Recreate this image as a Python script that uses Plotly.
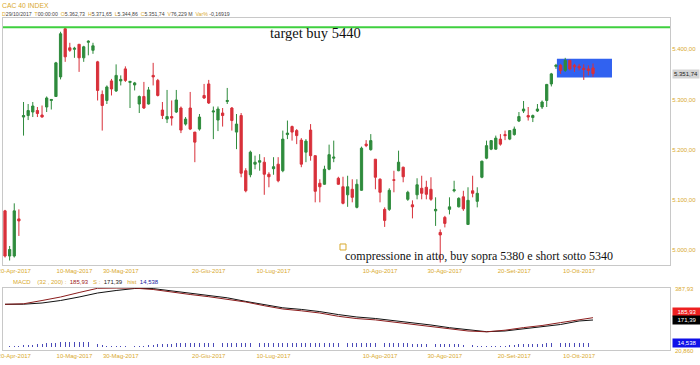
import plotly.graph_objects as go

# ---------------- data ----------------
idx = list(range(128))
opens = [5078, 4988, 4988, 5062, 5265, 5268, 5275, 5278, 5269, 5285,
         5298, 5306, 5345, 5441, 5403, 5400, 5410, 5383, 5414, 5398,
         5375, 5310, 5298, 5337, 5317, 5337, 5361, 5334, 5329, 5291,
         5306, 5291, 5348, 5338, 5279, 5261, 5266, 5275, 5283, 5251,
         5283, 5235, 5241, 5308, 5331, 5275, 5259, 5273, 5296, 5283,
         5235, 5268, 5158, 5150, 5171, 5175, 5175, 5151, 5162, 5171,
         5158, 5230, 5246, 5238, 5219, 5195, 5239, 5188, 5133, 5131,
         5161, 5183, 5143, 5126, 5110, 5121, 5085, 5119, 5211, 5200,
         5181, 5141, 5081, 5081, 5140, 5158, 5165, 5101, 5090, 5110,
         5123, 5125, 5121, 5078, 5035, 5065, 5081, 5118, 5086, 5106,
         5051, 5118, 5097, 5145, 5183, 5201, 5201, 5221, 5230, 5221,
         5230, 5257, 5277, 5268, 5264, 5277, 5285, 5298, 5331, 5366,
         5368, 5358, 5378, 5368, 5366, 5362, 5361, 5362.73]
highs = [5080, 5008, 5093, 5081, 5295, 5291, 5295, 5285, 5288, 5306,
         5301, 5375, 5435, 5443, 5413, 5405, 5410, 5407, 5418, 5413,
         5377, 5318, 5328, 5341, 5370, 5348, 5366, 5336, 5335, 5308,
         5335, 5325, 5373, 5341, 5295, 5319, 5298, 5319, 5286, 5265,
         5315, 5235, 5271, 5331, 5339, 5286, 5286, 5283, 5323, 5285,
         5271, 5273, 5163, 5198, 5188, 5191, 5185, 5155, 5185, 5185,
         5238, 5258, 5248, 5241, 5223, 5221, 5251, 5188, 5141, 5168,
         5210, 5218, 5146, 5146, 5148, 5141, 5141, 5206, 5219, 5231,
         5181, 5143, 5085, 5123, 5158, 5198, 5166, 5118, 5099, 5143,
         5148, 5138, 5145, 5105, 5041, 5068, 5105, 5138, 5105, 5118,
         5125, 5148, 5125, 5178, 5218, 5219, 5228, 5231, 5238, 5239,
         5246, 5275, 5297, 5285, 5270, 5291, 5298, 5331, 5353, 5371,
         5371, 5383, 5379, 5371, 5371, 5370, 5368, 5371.65]
lows = [4985, 4979, 4985, 5028, 5228, 5259, 5265, 5265, 5264, 5275,
        5280, 5305, 5340, 5375, 5395, 5383, 5355, 5375, 5388, 5391,
        5298, 5238, 5291, 5308, 5315, 5328, 5335, 5283, 5318, 5273,
        5281, 5290, 5328, 5306, 5261, 5253, 5248, 5273, 5233, 5248,
        5239, 5175, 5238, 5301, 5291, 5221, 5237, 5246, 5291, 5238,
        5201, 5145, 5115, 5145, 5161, 5158, 5110, 5125, 5150, 5135,
        5155, 5221, 5218, 5211, 5165, 5175, 5178, 5095, 5095, 5130,
        5159, 5175, 5130, 5091, 5086, 5095, 5083, 5118, 5205, 5198,
        5121, 5095, 5046, 5078, 5115, 5157, 5135, 5098, 5063, 5101,
        5101, 5101, 5098, 5048, 4975, 5045, 5071, 5115, 5085, 5078,
        5050, 5105, 5085, 5143, 5181, 5199, 5200, 5208, 5219, 5219,
        5228, 5255, 5273, 5258, 5255, 5275, 5281, 5285, 5326, 5361,
        5351, 5355, 5358, 5355, 5358, 5339, 5348, 5344.86]
closes = [4988, 5001, 5078, 5058, 5268, 5278, 5287, 5272, 5265, 5303,
          5300, 5373, 5431, 5385, 5398, 5402, 5383, 5405, 5416, 5407,
          5318, 5288, 5325, 5321, 5348, 5340, 5338, 5336, 5333, 5306,
          5283, 5319, 5345, 5308, 5268, 5266, 5263, 5299, 5239, 5261,
          5241, 5215, 5265, 5303, 5293, 5277, 5281, 5268, 5298, 5258,
          5251, 5153, 5118, 5195, 5175, 5178, 5151, 5146, 5166, 5138,
          5221, 5233, 5235, 5228, 5171, 5217, 5188, 5117, 5126, 5161,
          5190, 5185, 5131, 5093, 5126, 5105, 5131, 5203, 5208, 5218,
          5145, 5115, 5059, 5119, 5139, 5175, 5146, 5115, 5086, 5130,
          5113, 5111, 5101, 5081, 5030, 5053, 5086, 5120, 5103, 5082,
          5099, 5113, 5113, 5177, 5208, 5218, 5223, 5211, 5228, 5238,
          5241, 5266, 5281, 5265, 5268, 5281, 5295, 5330, 5351, 5368,
          5358, 5378, 5361, 5365, 5363, 5360, 5358, 5351.74]

# MACD (red) and signal (black) lines, read every 4th session
macd_idx = [0, 4, 8, 12, 16, 20, 24, 28, 32, 36, 40, 44, 48, 52, 56, 60, 64,
            68, 72, 76, 80, 84, 88, 92, 96, 100, 104, 108, 112, 116, 120, 124, 127]
macd_line = [291.4, 294.4, 313.9, 334.6, 361.3, 386.2, 387.5, 387.3, 379.1, 363.1,
             349.4, 336.4, 322.8, 305.0, 283.1, 263.6, 252.9, 239.9, 220.4, 206.8,
             199.1, 186.6, 172.4, 160.0, 145.2, 133.4, 128.6, 138.1, 153.5, 165.9,
             183.1, 200.2, 212.1]
signal_line = [291.4, 292.0, 299.1, 313.9, 334.6, 358.3, 373.1, 385.0, 384.4, 370.2,
               357.2, 344.7, 329.9, 308.6, 289.7, 270.7, 261.2, 248.2, 230.5, 216.2,
               207.4, 195.5, 180.7, 168.9, 152.9, 139.3, 129.2, 133.4, 146.4, 159.4,
               171.9, 192.6, 198.5]
hist = [3, 3, 3, 3, 6, 7, 8, 10, 11, 12, 13, 15, 16, 17, 18, 18, 18, 17, 16,
        13, 10, 7, 4, 3, 3, 3, 3, 3, 3, 3,
        5, 7, 8, 9, 10, 11, 11, 12, 12, 12, 12, 12, 12, 12, 12, 12, 12, 12, 12, 12,
        12, 12, 12, 12, 12, 12, 12, 12, 12, 12, 12, 12, 12, 12, 12, 12, 12, 12, 12, 12,
        12, 12, 12, 12, 12, 12,
        12, 12, 12, 12, 12, 12, 12, 12, 12, 12, 12, 12, 11, 11, 11, 11, 11, 10, 10, 10,
        10, 9, 9, 8, 7, 6, 5,
        3, 3, 3, 3, 3,
        5, 7, 8, 9, 10, 10, 11, 11, 11, 12, 12, 12, 12, 12, 12, 13, 13, 13, 14, 14.538]

tick_idx = [2, 15, 25, 44, 58, 81, 95, 110, 124]
tick_labels = ["20-Apr-2017", "10-Mag-2017", "30-Mag-2017", "20-Giu-2017", "10-Lug-2017",
               "10-Ago-2017", "30-Ago-2017", "20-Set-2017", "10-Ott-2017"]
price_ticks = [5000, 5100, 5200, 5300, 5400]

target_level = 5444
box_low, box_high = 5344, 5381
box_start, box_end = 119.2, 131.1

# ---------------- style ----------------
W, H = 700, 365
GOLD = "#d9a92e"
GREEN = "#2e8b3c"
RED = "#d8303a"
FRAME = "#c8c8c8"
SANS = "Liberation Sans"
SERIF = "Liberation Serif"


def px(x):
    return x / W


def py(y):
    return 1 - y / H


fig = go.Figure()
fig.add_trace(go.Candlestick(
    x=idx, open=opens, high=highs, low=lows, close=closes,
    xaxis="x", yaxis="y", whiskerwidth=0, showlegend=False, hoverinfo="skip",
    increasing=dict(line=dict(color=GREEN, width=1), fillcolor=GREEN),
    decreasing=dict(line=dict(color=RED, width=1), fillcolor=RED)))
fig.add_trace(go.Bar(x=idx, y=hist, xaxis="x2", yaxis="y3", width=0.2, hoverinfo="skip",
                     marker=dict(color="#4a4ab8", line=dict(width=0)), showlegend=False))
fig.add_trace(go.Scatter(x=macd_idx, y=signal_line, xaxis="x2", yaxis="y2", mode="lines",
                         hoverinfo="skip", line=dict(color="#111111", width=1), showlegend=False))
fig.add_trace(go.Scatter(x=macd_idx, y=macd_line, xaxis="x2", yaxis="y2", mode="lines",
                         hoverinfo="skip", line=dict(color="#8b1c1c", width=1), showlegend=False))

xr = [(3 - 5) / 4.63, (670 - 5) / 4.63]
axis_common = dict(showgrid=False, zeroline=False, showline=True, linecolor=FRAME,
                   linewidth=1, mirror=True, ticks="", automargin=False)
fig.update_layout(
    width=W, height=H, margin=dict(l=0, r=0, t=0, b=0, autoexpand=False),
    paper_bgcolor="white", plot_bgcolor="white", separators=",.",
    showlegend=False, bargap=0, hovermode=False,
    xaxis=dict(domain=[px(3), px(670)], range=xr, anchor="y",
               tickvals=tick_idx, ticktext=tick_labels, ticklabeloverflow="allow",
               tickfont=dict(family=SANS, size=6, color=GOLD),
               rangeslider=dict(visible=False), **axis_common),
    yaxis=dict(domain=[py(265), py(18)], range=[4970.1, 5462.4], side="right", anchor="x",
               tickvals=price_ticks, tickformat=",.2f", ticklabeloverflow="allow",
               tickfont=dict(family=SANS, size=6, color=GOLD), **axis_common),
    xaxis2=dict(domain=[px(3), px(670)], range=xr, anchor="y2", matches="x",
                tickvals=tick_idx, ticktext=tick_labels, ticklabeloverflow="allow",
                tickfont=dict(family=SANS, size=6, color=GOLD), **axis_common),
    yaxis2=dict(domain=[py(350), py(288)], range=[20.86, 387.93], side="right", anchor="x2",
                showticklabels=False, **axis_common),
    yaxis3=dict(overlaying="y2", range=[-10.1, 199.4], visible=False, automargin=False),
)

shapes = [
    dict(type="rect", xref="x", yref="y", x0=box_start, x1=box_end, y0=box_low, y1=box_high,
         fillcolor="#3162f0", line=dict(width=0), layer="below"),
    dict(type="line", xref="x domain", yref="y", x0=0, x1=1, y0=target_level, y1=target_level,
         line=dict(color="#3fd03f", width=2)),
    dict(type="rect", xref="x", yref="y", xsizemode="pixel", ysizemode="pixel",
         xanchor=73, yanchor=5006, x0=-3, x1=3, y0=-3, y1=3,
         line=dict(color=GOLD, width=1), fillcolor="rgba(0,0,0,0)"),
]
fig.update_layout(shapes=shapes)

anns = []


def ann(text, x, y, size, color="#333333", family=SANS, xanchor="left", **kw):
    d = dict(text=text, x=px(x), y=py(y), xref="paper", yref="paper", showarrow=False,
             xanchor=xanchor, yanchor="middle", font=dict(family=family, size=size, color=color))
    d.update(kw)
    anns.append(d)


def g(t):
    return f"<span style='color:{GOLD}'>{t}</span>"


ann("CAC 40 INDEX", 0, 5, 6.8, GOLD)
ann(g("D") + "29/10/2017  " + g("T") + "00:00:00  " + g("O") + "5.362,73  " + g("H") + "5.371,65  "
    + g("L") + "5.344,86  " + g("C") + "5.351,74  " + g("V") + "76,229 M  " + g("Var%") + " -0,16919",
    0, 13.5, 5.2, "#444444")
ann(g("MACD") + "    " + g("(32 , 200) :") + "  <span style='color:#a02020'>185,93</span>   "
    + g("S :") + "  <span style='color:#222222'>171,39</span>   " + g("hist") + "  "
    + "<span style='color:#2020a0'>14,538</span>", 11, 282, 6, GOLD)

ann("target buy 5440", 268, 33, 14.5, "#111111", SERIF)
ann("compressione in atto, buy sopra 5380 e short sotto 5340", 343, 256, 12, "#111111", SERIF)

# right-side value boxes
anns.append(dict(text="5.351,74", x=1.0, xref="x domain", y=closes[-1], yref="y", showarrow=False,
                 xanchor="left", yanchor="middle", xshift=2, bgcolor="#d4d4d4", borderpad=1,
                 font=dict(family=SANS, size=6, color="#222222")))
ann("387,93", 673, 288.5, 6, GOLD)
ann("20,860", 673, 351, 6, GOLD)
anns.append(dict(text="185,93", x=1.0, xref="x2 domain", y=macd_line[-1], yref="y2", showarrow=False,
                 xanchor="left", yanchor="middle", xshift=2, yshift=6, bgcolor="#ee2020", borderpad=1,
                 width=26, font=dict(family=SANS, size=6, color="white")))
anns.append(dict(text="171,39", x=1.0, xref="x2 domain", y=signal_line[-1], yref="y2", showarrow=False,
                 xanchor="left", yanchor="middle", xshift=2, bgcolor="#000000", borderpad=1,
                 width=26, font=dict(family=SANS, size=6, color="white")))
anns.append(dict(text="14,538", x=1.0, xref="x2 domain", y=hist[-1], yref="y3", showarrow=False,
                 xanchor="left", yanchor="middle", xshift=2, bgcolor="#1010e8", borderpad=1,
                 width=26, font=dict(family=SANS, size=6, color="white")))
fig.update_layout(annotations=anns)

fig.write_html("out.html", config={"displayModeBar": False, "staticPlot": True},
               post_script="document.body.style.margin='0';document.body.style.padding='0';")
